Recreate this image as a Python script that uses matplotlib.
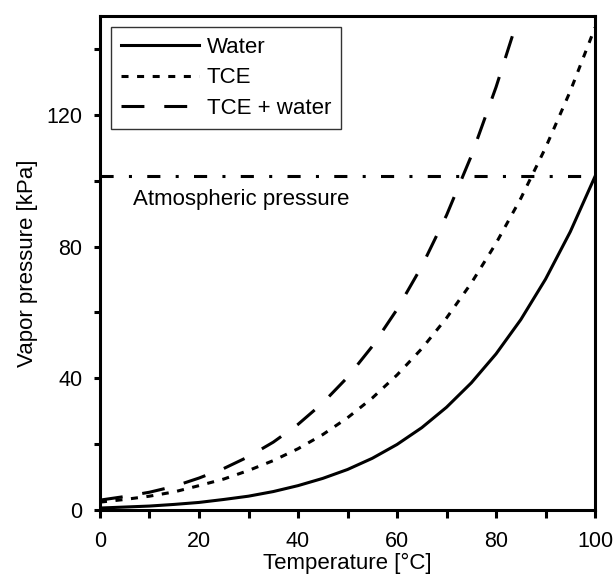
import numpy as np
import matplotlib
matplotlib.use('Agg')
import matplotlib.pyplot as plt
from matplotlib.ticker import MultipleLocator

plt.rcParams['font.family'] = ['Liberation Sans', 'DejaVu Sans']

# vapor pressure [kPa] vs temperature [degC]
temp = [0, 5, 10, 15, 20, 25, 30, 35, 40, 45, 50,
        55, 60, 65, 70, 75, 80, 85, 90, 95, 100]
p_water = [0.6, 0.9, 1.2, 1.7, 2.3, 3.2, 4.2, 5.6, 7.4, 9.6, 12.3,
           15.7, 19.9, 25.0, 31.2, 38.6, 47.4, 57.8, 70.1, 84.5, 101.3]
p_tce = [2.4, 3.2, 4.2, 5.5, 7.4, 9.4, 12.0, 15.0, 18.6, 22.9, 28.0,
         34.0, 41.0, 49.0, 58.3, 68.9, 81.0, 94.6, 110.0, 127.2, 146.5]
temp_mix = [0, 5, 10, 15, 20, 25, 30, 35, 40, 45, 50,
            55, 60, 65, 70, 75, 80, 84]
p_mix = [3.0, 4.1, 5.4, 7.2, 9.7, 12.6, 16.2, 20.6, 26.0, 32.5, 40.3,
         49.7, 60.9, 74.0, 89.5, 107.5, 128.4, 147.2]
p_atm = 101.3

fig = plt.figure(figsize=(6.16, 5.77), dpi=100)
ax = fig.add_axes([0.1623, 0.1161, 0.8037, 0.8562])

lw = 2.2
ax.plot(temp, p_water, color='black', lw=lw, ls='-', label='Water')
ax.plot(temp, p_tce, color='black', lw=lw, ls=(0, (2.3, 2.8)), label='TCE')
ax.plot(temp_mix, p_mix, color='black', lw=lw, ls=(0, (7.5, 6.5)), label='TCE + water')
ax.axhline(p_atm, color='black', lw=lw, ls=(0, (4.3, 5, 1, 5)))
ax.text(6.7, 94.2, 'Atmospheric pressure', fontsize=16, va='center', ha='left')

ax.set_xlim(0, 100)
ax.set_ylim(0, 150)
ax.xaxis.set_major_locator(MultipleLocator(20))
ax.xaxis.set_minor_locator(MultipleLocator(10))
ax.yaxis.set_major_locator(MultipleLocator(40))
ax.yaxis.set_minor_locator(MultipleLocator(20))
ax.tick_params(which='both', direction='out', width=2.2, labelsize=15.5,
               top=False, right=False)
ax.tick_params(axis='x', which='both', length=6, pad=9)
ax.tick_params(axis='y', which='both', length=4.5, pad=8)
for sp in ax.spines.values():
    sp.set_linewidth(2.2)

ax.set_xlabel('Temperature [°C]', fontsize=16, labelpad=1)
ax.set_ylabel('Vapor pressure [kPa]', fontsize=16, labelpad=6)

leg = ax.legend(loc='upper left', fontsize=16, handlelength=3.5,
                frameon=True, fancybox=False, edgecolor='black',
                borderaxespad=0.5, borderpad=0.45, labelspacing=0.42,
                handletextpad=0.36)
leg.get_frame().set_linewidth(1.0)

fig.savefig('out.png', dpi=100)
